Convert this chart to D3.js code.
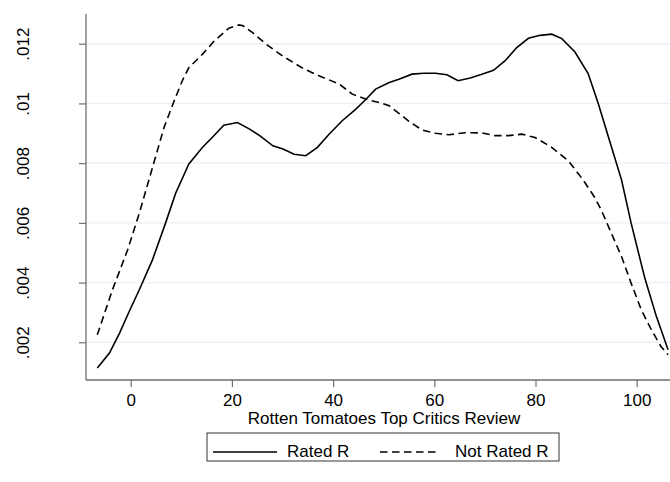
<!DOCTYPE html>
<html>
<head>
<meta charset="utf-8">
<script src="https://cdn.jsdelivr.net/npm/d3@7"></script>
<style>
  body { margin: 0; background: #fff; }
  text { font-family: "Liberation Sans", Arial, sans-serif; }
</style>
</head>
<body>
<svg width="670" height="482"></svg>
<script>
// kernel density, Rated R (solid)
const ratedX = [-6.6, -4.2, -2.2, -0.3, 1.7, 4.3, 6.9, 8.9, 11.5, 14.2, 16.1, 18.4, 21.1, 23.5, 25.5, 28.1, 30.1, 32.3, 34.6, 36.9, 39.2, 41.8, 44.5, 46.5, 48.4, 51.1, 53.0, 55.6, 57.9, 60.2, 62.5, 64.7, 67.1, 69.4, 71.7, 74.0, 76.3, 78.6, 80.9, 83.2, 85.2, 87.8, 90.4, 92.4, 95.0, 97.0, 98.9, 101.6, 103.9, 106.2];
const ratedY = [.00114, .00164, .00231, .00303, .00376, .00476, .00600, .00700, .00797, .00853, .00886, .00927, .00936, .00914, .00892, .00858, .00847, .00830, .00825, .00853, .00897, .00942, .00981, .01014, .01048, .01070, .01081, .01098, .01101, .01101, .01096, .01076, .01085, .01098, .01111, .01143, .01187, .01218, .01228, .01232, .01217, .01172, .01100, .01000, .00855, .00744, .00599, .00415, .00286, .00175];

// Not Rated R (dashed)
const notRatedX = [-6.6, -3.6, -0.6, 1.7, 4.3, 6.6, 8.6, 10.2, 11.5, 14.2, 16.5, 19.4, 21.4, 22.2, 24.1, 26.8, 30.0, 34.3, 37.3, 41.2, 43.8, 46.5, 49.1, 51.1, 53.0, 55.0, 57.6, 60.2, 62.9, 66.1, 69.4, 72.0, 74.6, 77.3, 79.9, 83.2, 86.5, 89.4, 91.7, 93.0, 95.0, 97.0, 98.9, 100.9, 102.9, 104.8, 106.2];
const notRatedY = [.00225, .00376, .00510, .00632, .00785, .00920, .01009, .01076, .01120, .01165, .01209, .01252, .01263, .01260, .01237, .01198, .01159, .01115, .01092, .01065, .01031, .01014, .01003, .00992, .00967, .00940, .00911, .00900, .00895, .00902, .00901, .00892, .00892, .00897, .00886, .00853, .00808, .00744, .00685, .00643, .00565, .00487, .00398, .00309, .00242, .00186, .00158];

const xTicks = [0, 20, 40, 60, 80, 100];
const yTicks = [.002, .004, .006, .008, .01, .012];
const yTickLabels = ['.002', '.004', '.006', '.008', '.01', '.012'];
const seriesNames = ['Rated R', 'Not Rated R'];

const svg = d3.select('svg');
const plot = { left: 86, top: 14, right: 670, bottom: 380 };

const xScale = d3.scaleLinear().domain([0, 100]).range([130.7, 636.7]);
const yScale = d3.scaleLinear().domain([.002, .012]).range([342.3, 43.7]);

// gridlines
svg.append('g').selectAll('line').data(yTicks)
  .enter().append('line')
  .attr('x1', plot.left).attr('x2', plot.right)
  .attr('y1', d => yScale(d)).attr('y2', d => yScale(d))
  .attr('stroke', '#e8f0f2').attr('stroke-width', 1.4);

// y axis
const yAxis = svg.append('g')
  .attr('transform', `translate(${plot.left},0)`)
  .call(d3.axisLeft(yScale).tickValues(yTicks)
    .tickFormat((d, i) => yTickLabels[i]).tickSize(7).tickPadding(0));
yAxis.select('.domain').remove();
yAxis.selectAll('.tick line').attr('stroke', '#6e6e6e').attr('stroke-width', 1.2);
yAxis.selectAll('.tick text')
  .attr('x', null).attr('dy', null)
  .attr('transform', `translate(${29 - plot.left},0) rotate(-90)`)
  .attr('text-anchor', 'middle')
  .style('font-size', '17px').attr('fill', '#000');

// x axis
const xAxis = svg.append('g')
  .attr('transform', `translate(0,${plot.bottom})`)
  .call(d3.axisBottom(xScale).tickValues(xTicks).tickSize(7).tickPadding(0));
xAxis.select('.domain').remove();
xAxis.selectAll('.tick line').attr('stroke', '#6e6e6e').attr('stroke-width', 1.2);
xAxis.selectAll('.tick text')
  .attr('y', 26).attr('dy', null)
  .style('font-size', '17px').attr('fill', '#000');

// axis lines
svg.append('line')
  .attr('x1', plot.left).attr('x2', plot.left)
  .attr('y1', plot.top).attr('y2', plot.bottom)
  .attr('stroke', '#6e6e6e').attr('stroke-width', 1.3);
svg.append('line')
  .attr('x1', plot.left).attr('x2', plot.right)
  .attr('y1', plot.bottom).attr('y2', plot.bottom)
  .attr('stroke', '#6e6e6e').attr('stroke-width', 1.3);

// curves
const line = d3.line().x(d => xScale(d[0])).y(d => yScale(d[1]));
const rated = ratedX.map((x, i) => [x, ratedY[i]]);
const notRated = notRatedX.map((x, i) => [x, notRatedY[i]]);

svg.append('path').datum(rated)
  .attr('d', line)
  .attr('fill', 'none').attr('stroke', '#000').attr('stroke-width', 1.6);
svg.append('path').datum(notRated)
  .attr('d', line)
  .attr('fill', 'none').attr('stroke', '#000').attr('stroke-width', 1.6)
  .attr('stroke-dasharray', '7.5,4.5');

// axis title
svg.append('text')
  .attr('x', 384).attr('y', 424)
  .attr('text-anchor', 'middle')
  .style('font-size', '17px')
  .text('Rotten Tomatoes Top Critics Review');

// legend
const lg = svg.append('g');
lg.append('rect')
  .attr('x', 207).attr('y', 433).attr('width', 352).attr('height', 28)
  .attr('fill', '#fff').attr('stroke', '#333').attr('stroke-width', 1);
lg.append('line')
  .attr('x1', 213).attr('x2', 277).attr('y1', 452).attr('y2', 452)
  .attr('stroke', '#000').attr('stroke-width', 1.6);
lg.append('text').attr('x', 287).attr('y', 457)
  .style('font-size', '17px').text(seriesNames[0]);
lg.append('line')
  .attr('x1', 380).attr('x2', 440).attr('y1', 452).attr('y2', 452)
  .attr('stroke', '#000').attr('stroke-width', 1.6)
  .attr('stroke-dasharray', '7.5,4.5');
lg.append('text').attr('x', 455).attr('y', 457)
  .style('font-size', '17px').text(seriesNames[1]);
</script>
</body>
</html>
